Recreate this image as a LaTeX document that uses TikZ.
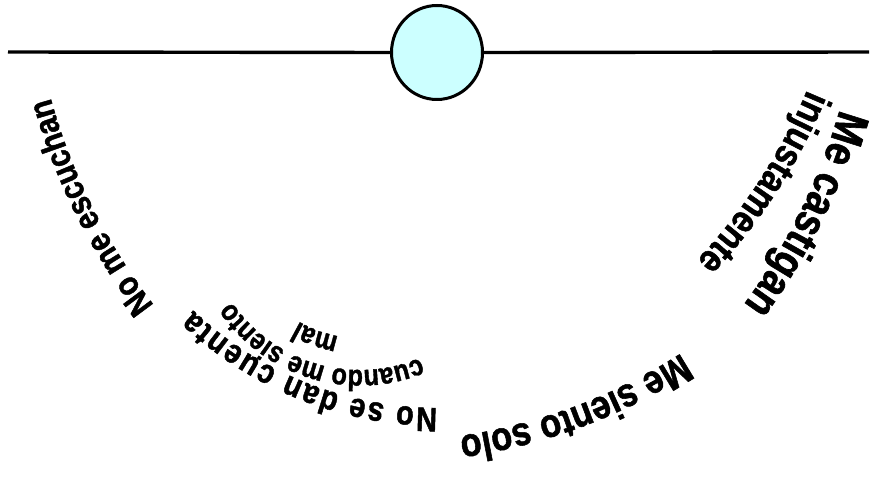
\documentclass[tikz,border=0pt]{standalone}
\usepackage{fontspec}
\setmainfont{Liberation Sans}
\newfontfamily\wafont[FakeStretch=0.85,FakeBold=1.3]{Liberation Sans Bold}
\usetikzlibrary{decorations.text,calc,shapes.geometric}
\definecolor{suncyan}{RGB}{204,255,255}
\begin{document}
\begin{tikzpicture}[x=1pt,y=1pt,
  baseline line/.style={line width=3.4pt, draw=black},
  sunbox/.style={ellipse, draw=black, line width=3pt, fill=suncyan,
    minimum width=91pt, minimum height=94pt, inner sep=0pt}]
\useasboundingbox (0,0) rectangle (875,477);
% horizontal line and ellipse
\coordinate (L) at (8,425);
\coordinate (R) at (869,425);
\node[sunbox] (sun) at (437,424.5) {};
\draw[baseline line] (L) -- (sun.west);
\draw[baseline line] (sun.east) -- (R);
% arc centres
\coordinate (cL) at (631,539);
\coordinate (cB) at (379,594);
\coordinate (cR) at (245,539);
\coordinate (cI) at (282,606);
\coordinate (cM) at (438,425);
\coordinate (cC) at (360,262);
% left text
\path[decorate, decoration={text along path, text align=center,
  text={|\wafont\fontsize{34.5pt}{34.5pt}\selectfont|No me escuchan}}]
  ($(cL)+(231:602)$) arc[start angle=231, end angle=182, radius=602];
% bottom text
\path[decorate, decoration={text along path, text align=center,
  text={|\wafont\fontsize{40.5pt}{40.5pt}\selectfont|Me siento solo}}]
  ($(cB)+(-44.5:559)$) arc[start angle=-44.5, end angle=-94.5, radius=559];
% right text
\path[decorate, decoration={text along path, text align=center,
  text={|\wafont\fontsize{45pt}{45pt}\selectfont|Me castigan}}]
  ($(cR)+(-1.2:619)$) arc[start angle=-1.2, end angle=-51.2, radius=619];
\path[decorate, decoration={text along path, text align=center,
  text={|\wafont\fontsize{39pt}{39pt}\selectfont|injustamente}}]
  ($(cI)+(-7.9:569)$) arc[start angle=-7.9, end angle=-57.9, radius=569];
% middle group
\path[decorate, decoration={text along path, text align=fit to path,
  text={|\wafont\fontsize{34pt}{34pt}\selectfont|No se dan cuenta}}]
  ($(cM)+(-90.1:356)$) arc[start angle=-90.1, end angle=-133.4, radius=356];
\path[decorate, decoration={text along path, text align=center,
  text={|\wafont\fontsize{29.5pt}{29.5pt}\selectfont|cuando me siento}}]
  ($(cC)+(-51.6:155)$) arc[start angle=-51.6, end angle=-161.6, radius=155];
\path[decorate, decoration={text along path, text align=center,
  text={|\wafont\fontsize{29.5pt}{29.5pt}\selectfont|mal}}]
  ($(cC)+(-70:123)$) arc[start angle=-70, end angle=-150, radius=123];
\end{tikzpicture}
\end{document}
